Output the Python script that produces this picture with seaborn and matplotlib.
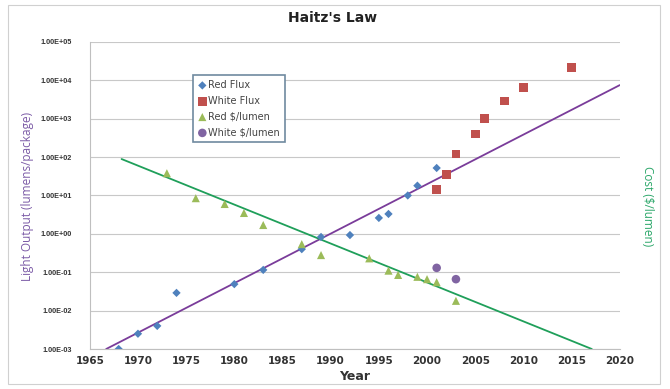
import numpy as np
import pandas as pd
import matplotlib
matplotlib.use("Agg")
from matplotlib import pyplot as plt
from matplotlib.ticker import FixedLocator, FuncFormatter
import seaborn as sns

# data
red_flux_year = [1968, 1970, 1972, 1974, 1980, 1983, 1987, 1989, 1992, 1995, 1996, 1998, 1999, 2001]
red_flux_val = [0.001, 0.0025, 0.004, 0.029, 0.049, 0.115, 0.4, 0.83, 0.93, 2.6, 3.3, 10, 18, 52]

white_flux_year = [2001, 2002, 2003, 2005, 2006, 2008, 2010, 2015]
white_flux_val = [14, 36, 120, 400, 1000, 2900, 6600, 22000]

red_cost_year = [1973, 1976, 1979, 1981, 1983, 1987, 1989, 1994, 1996, 1997, 1999, 2000, 2001, 2003]
red_cost_val = [38, 8.5, 6, 3.5, 1.7, 0.54, 0.28, 0.23, 0.11, 0.085, 0.076, 0.066, 0.055, 0.018]

white_cost_year = [2001, 2003]
white_cost_val = [0.13, 0.066]

# trend lines (end points)
flux_trend_year = [1966.7, 2020]
flux_trend_val = [0.001, 7500]
cost_trend_year = [1968.3, 2017.1]
cost_trend_val = [89, 0.001]

series = ["Red Flux", "White Flux", "Red $/lumen", "White $/lumen"]
df = pd.concat([
    pd.DataFrame({"year": red_flux_year, "val": red_flux_val, "series": series[0]}),
    pd.DataFrame({"year": white_flux_year, "val": white_flux_val, "series": series[1]}),
    pd.DataFrame({"year": red_cost_year, "val": red_cost_val, "series": series[2]}),
    pd.DataFrame({"year": white_cost_year, "val": white_cost_val, "series": series[3]}),
], ignore_index=True)

palette = {"Red Flux": "#4f81bd", "White Flux": "#c0504d",
           "Red $/lumen": "#9bbb59", "White $/lumen": "#8064a2"}
markers = {"Red Flux": "D", "White Flux": "s", "Red $/lumen": "^", "White $/lumen": "o"}
sizes = {"Red Flux": 18, "White Flux": 40, "Red $/lumen": 34, "White $/lumen": 38}

sns.set_style("white")
fig = plt.figure(figsize=(6.7, 3.89), dpi=100)
ax = fig.add_axes([0.134, 0.1028, 0.791, 0.7894])

sns.lineplot(x=flux_trend_year, y=flux_trend_val, ax=ax, color="#7a3c9a", lw=1.3, zorder=2)
sns.lineplot(x=cost_trend_year, y=cost_trend_val, ax=ax, color="#1f9f5a", lw=1.3, zorder=2)

for s in series:
    sub = df[df.series == s]
    sns.scatterplot(data=sub, x="year", y="val", ax=ax, color=palette[s], marker=markers[s],
                    s=sizes[s], edgecolor="none", label=s, zorder=3)

ax.set_yscale("log")
ax.set_ylim(1e-3, 1e5)
ax.set_xlim(1965, 2020)
ax.set_xticks(range(1965, 2021, 5))
ax.yaxis.set_major_locator(FixedLocator([10.0 ** k for k in range(-3, 6)]))
ax.yaxis.set_minor_locator(FixedLocator([]))

def sci(v, pos):
    e = int(round(np.log10(v)))
    sign = "+" if e >= 0 else "-"
    return "1.00E%s%02d" % (sign, abs(e))

ax.yaxis.set_major_formatter(FuncFormatter(sci))
ax.grid(axis="y", color="#c8c8c8", lw=0.8)
ax.grid(axis="x", visible=False)
ax.tick_params(axis="y", labelsize=5.2, length=0, pad=13)
ax.tick_params(axis="x", labelsize=7.5, length=0, pad=5)
for t in ax.get_yticklabels():
    t.set_fontweight("bold")
    t.set_color("#333333")
    t.set_family("Liberation Sans")
for t in ax.get_xticklabels():
    t.set_fontweight("bold")
    t.set_color("#333333")

for side in ["top", "right"]:
    ax.spines[side].set_visible(False)
ax.spines["left"].set_color("#bfbfbf")
ax.spines["bottom"].set_color("#bfbfbf")

ax.set_xlabel("Year", fontsize=9, fontweight="bold", color="#333333", labelpad=3)
ax.set_ylabel("")
fig.text(0.041, 0.496, "Light Output (lumens/package)", rotation=90, va="center", ha="center",
         fontsize=8.5, color="#7b5aa6", family="Open Sans")
fig.text(0.967, 0.47, "Cost ($/lumen)", rotation=270, va="center", ha="center",
         fontsize=8.5, color="#2ca76a", family="Open Sans")
fig.text(0.497, 0.955, "Haitz's Law", ha="center", va="center", fontsize=10, fontweight="bold",
         color="#222222")

leg = ax.legend(loc="upper left", bbox_to_anchor=(0.194, 0.892), borderaxespad=0,
                fontsize=7, frameon=True, fancybox=False, framealpha=1,
                handletextpad=0.1, labelspacing=0.6, borderpad=0.5, handlelength=1.0)
leg.get_frame().set_edgecolor("#6f8aa0")
leg.get_frame().set_linewidth(1.2)
for t in leg.get_texts():
    t.set_color("#444444")

fig.patches.append(plt.Rectangle((0.012, 0.012), 0.973, 0.976, transform=fig.transFigure,
                                 fill=False, edgecolor="#d0d0d0", lw=0.8))

fig.savefig("out.png", dpi=100)
